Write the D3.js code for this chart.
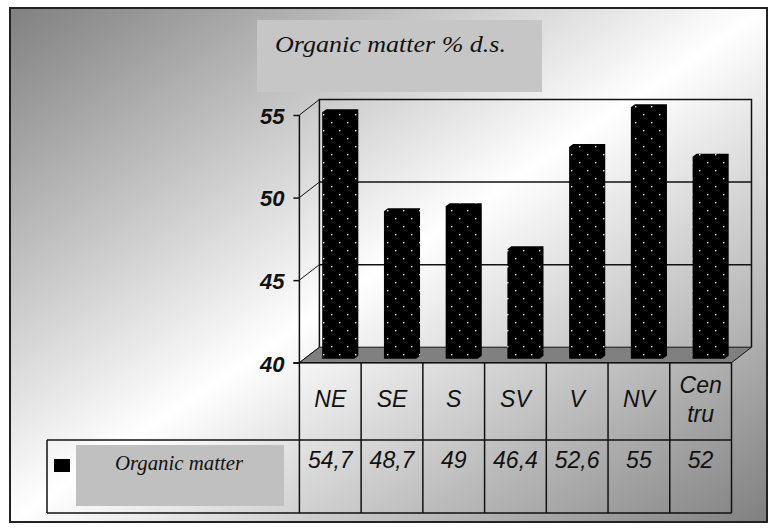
<!DOCTYPE html>
<html>
<head>
<meta charset="utf-8">
<script src="https://cdn.jsdelivr.net/npm/d3@7/dist/d3.min.js"></script>
<style>
  html, body { margin: 0; padding: 0; background: #fff; }
  svg { display: block; }
</style>
</head>
<body>
<svg id="chart" width="776" height="529"></svg>
<script>
// Organic matter content (% of dry substance) by region
const categories = ["NE", "SE", "S", "SV", "V", "NV", "Centru"];
const categoryLines = [["NE"], ["SE"], ["S"], ["SV"], ["V"], ["NV"], ["Cen", "tru"]];
const values = [54.7, 48.7, 49, 46.4, 52.6, 55, 52];
const valueLabels = ["54,7", "48,7", "49", "46,4", "52,6", "55", "52"];
const yTicks = [40, 45, 50, 55];
const seriesName = "Organic matter";
const titleText = "Organic matter % d.s.";

const svg = d3.select("#chart");
const defs = svg.append("defs");

// diagonal grey-white-grey background
const grad = defs.append("linearGradient")
  .attr("id", "bg").attr("x1", 0).attr("y1", 0).attr("x2", 1).attr("y2", 1);
grad.append("stop").attr("offset", 0).attr("stop-color", "#808080");
grad.append("stop").attr("offset", 0.5).attr("stop-color", "#ffffff");
grad.append("stop").attr("offset", 1).attr("stop-color", "#808080");

// black fill with a staggered white dot lattice
const pat = defs.append("pattern")
  .attr("id", "dots").attr("patternUnits", "userSpaceOnUse")
  .attr("width", 16).attr("height", 16).attr("x", 3).attr("y", 2);
pat.append("rect").attr("width", 16).attr("height", 16).attr("fill", "#000");
pat.append("rect").attr("x", 0).attr("y", 0).attr("width", 1.4).attr("height", 1.4).attr("fill", "#fff");
pat.append("rect").attr("x", 8).attr("y", 8).attr("width", 1.4).attr("height", 1.4).attr("fill", "#fff");

// frame
svg.append("rect")
  .attr("x", 10).attr("y", 8).attr("width", 757).attr("height", 514)
  .attr("fill", "url(#bg)").attr("stroke", "#222").attr("stroke-width", 2);

// title
svg.append("rect").attr("x", 257).attr("y", 20).attr("width", 285).attr("height", 72)
  .attr("fill", "#c6c6c6");
svg.append("text")
  .attr("x", 275).attr("y", 52)
  .attr("font-family", "Liberation Serif, serif").attr("font-style", "italic")
  .attr("font-size", 23).attr("fill", "#111")
  .attr("textLength", 231).attr("lengthAdjust", "spacingAndGlyphs")
  .text(titleText);

// scales
const x = d3.scaleBand().domain(categories).range([299.4, 731.5]).paddingInner(0).paddingOuter(0);
const y = d3.scaleLinear().domain([40, 55]).range([362.7, 115]);
const DX = 20, DY = -15.5;          // depth of the 3D box
const xL = x.range()[0], xR = x.range()[1];
const yFloor = y(40), yTop = y(55);
const tableRow1 = 440, tableBottom = 513, tableLeft = 47;

// back wall gridlines and outline
const wall = svg.append("g").attr("stroke", "#111").attr("stroke-width", 1.5).attr("fill", "none");
yTicks.filter(t => t > 40 && t < 55).forEach(t => {
  wall.append("line").attr("x1", xL + DX).attr("x2", xR + DX)
    .attr("y1", y(t) + DY).attr("y2", y(t) + DY);
});
wall.append("polyline")
  .attr("points", [[xL + DX, yFloor + DY], [xL + DX, yTop + DY], [xR + DX, yTop + DY], [xR + DX, yFloor + DY]].join(" "));

// side wall diagonals
yTicks.forEach(t => {
  wall.append("line").attr("x1", xL).attr("y1", y(t))
    .attr("x2", xL + DX).attr("y2", y(t) + DY).attr("stroke-width", 1);
});

// floor
svg.append("polygon")
  .attr("points", [[xL, yFloor], [xR, yFloor], [xR + DX, yFloor + DY], [xL + DX, yFloor + DY]].join(" "))
  .attr("fill", "#808080").attr("stroke", "#111").attr("stroke-width", 1);

// bars (front face plus a shallow extrusion toward the back)
const faceW = x.bandwidth() * 0.52;
const ex = 4, ey = -3;
const barBottom = yFloor - 4;
svg.append("g").selectAll("path").data(values).join("path")
  .attr("d", (v, i) => {
    const cx = x(categories[i]) + x.bandwidth() / 2 + DX / 2 - ex / 2;
    const x0 = cx - faceW / 2, x1 = cx + faceW / 2;
    const t = y(v) + DY / 2;
    return `M${x0},${barBottom}L${x0},${t}L${x0 + ex},${t + ey}L${x1 + ex},${t + ey}` +
           `L${x1 + ex},${barBottom + ey}L${x1},${barBottom}Z`;
  })
  .attr("fill", "url(#dots)");

// value axis
const axis = d3.axisLeft(y).tickValues(yTicks).tickSize(6).tickPadding(9).tickFormat(d3.format("d"));
const ag = svg.append("g").attr("transform", `translate(${xL},0)`).call(axis);
ag.select(".domain").remove();
ag.selectAll(".tick line").attr("stroke", "#111").attr("stroke-width", 1.5);
ag.selectAll(".tick text")
  .attr("font-family", "Liberation Sans, Arial, sans-serif")
  .attr("font-weight", "bold").attr("font-style", "italic")
  .attr("font-size", 22).attr("fill", "#111").attr("dy", "0.38em");

// data table
const tbl = svg.append("g").attr("stroke", "#111").attr("stroke-width", 1.5);
tbl.append("line").attr("x1", xL - 6).attr("x2", xR).attr("y1", yFloor).attr("y2", yFloor);
tbl.append("line").attr("x1", tableLeft).attr("x2", xR).attr("y1", tableRow1).attr("y2", tableRow1);
tbl.append("line").attr("x1", tableLeft).attr("x2", xR).attr("y1", tableBottom).attr("y2", tableBottom);
tbl.append("line").attr("x1", tableLeft).attr("x2", tableLeft).attr("y1", tableRow1).attr("y2", tableBottom);
tbl.append("line").attr("x1", xL).attr("x2", xL).attr("y1", yTop).attr("y2", tableBottom);
categories.forEach(c => {
  const xe = x(c) + x.bandwidth();
  tbl.append("line").attr("x1", xe).attr("x2", xe).attr("y1", yFloor).attr("y2", tableBottom);
});

const labelFont = "Liberation Sans, Arial, sans-serif";
categoryLines.forEach((lines, i) => {
  const cx = x(categories[i]) + x.bandwidth() / 2;
  const baseY = lines.length === 1 ? [407] : [393, 422];
  lines.forEach((ln, k) => {
    svg.append("text").attr("x", cx).attr("y", baseY[k])
      .attr("text-anchor", "middle").attr("font-family", labelFont)
      .attr("font-style", "italic").attr("font-size", 23).attr("fill", "#111")
      .text(ln);
  });
});
valueLabels.forEach((lbl, i) => {
  svg.append("text").attr("x", x(categories[i]) + x.bandwidth() / 2).attr("y", 468)
    .attr("text-anchor", "middle").attr("font-family", labelFont)
    .attr("font-style", "italic").attr("font-size", 23).attr("fill", "#111")
    .text(lbl);
});

// legend key
svg.append("rect").attr("x", 54).attr("y", 459).attr("width", 16).attr("height", 13).attr("fill", "#000");
svg.append("rect").attr("x", 76).attr("y", 445).attr("width", 208).attr("height", 61).attr("fill", "#c0c0c0");
svg.append("text").attr("x", 115).attr("y", 470)
  .attr("font-family", "Liberation Serif, serif").attr("font-style", "italic")
  .attr("font-size", 21).attr("fill", "#111")
  .attr("textLength", 128).attr("lengthAdjust", "spacingAndGlyphs")
  .text(seriesName);
</script>
</body>
</html>
